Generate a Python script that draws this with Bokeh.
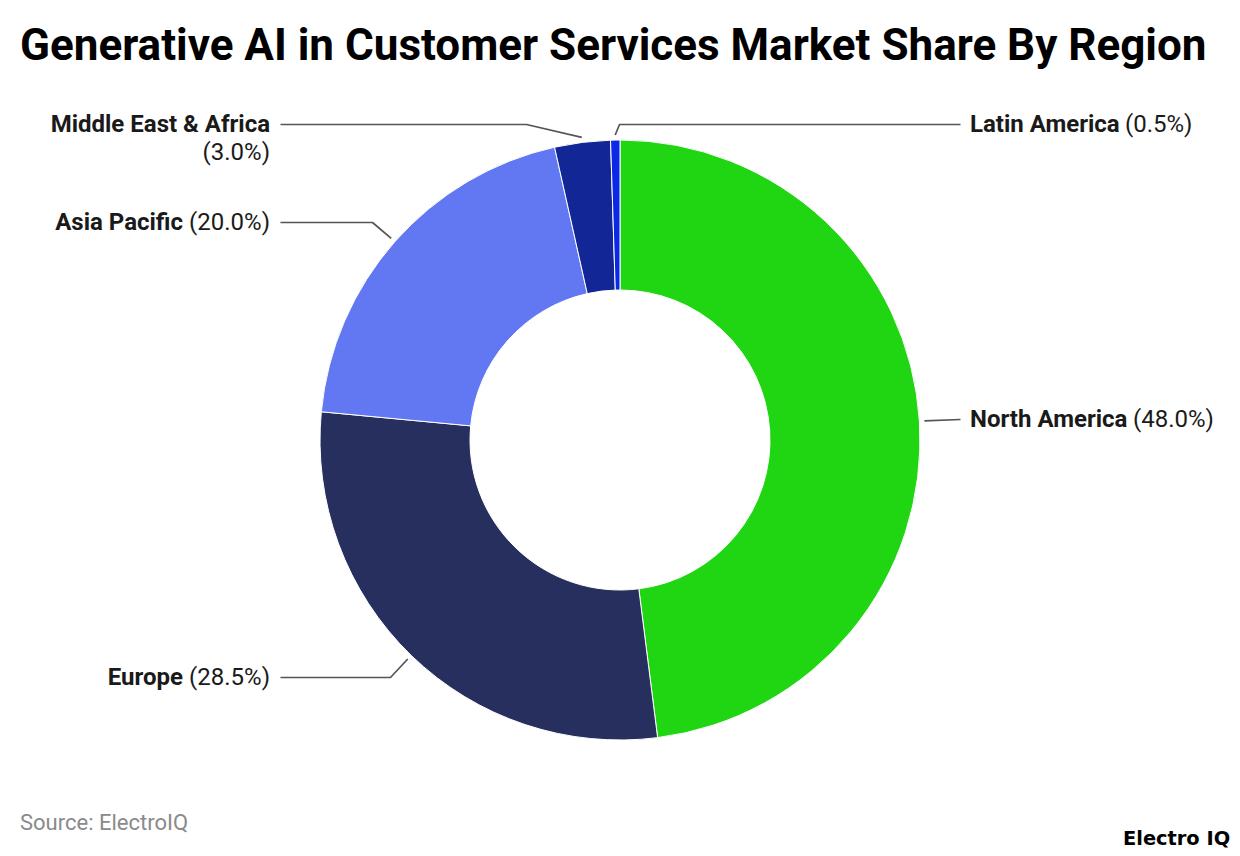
import math
from bokeh.core.properties import value
from bokeh.plotting import figure
from bokeh.embed import file_html
from bokeh.resources import INLINE

regions = ["North America", "Europe", "Asia Pacific", "Middle East & Africa", "Latin America"]
shares = [48.0, 28.5, 20.0, 3.0, 0.5]
colors = ["#20D612", "#272F5E", "#6178F2", "#122696", "#0A28E6"]

W, H = 1232, 848
CX, CY, R_OUT, R_IN = 619.5, 439.5, 300, 150
LEAD_R = 305
FONT = "Roboto"
TEXT_COLOR = "#1a1a1a"

# layout in reference page pixels
px = lambda x: x
py = lambda y: H - y

p = figure(width=W, height=H, x_range=(0, W), y_range=(0, H), output_backend="svg",
           toolbar_location=None, min_border=0, outline_line_color=None,
           background_fill_color="white", border_fill_color="white")
p.axis.visible = False
p.grid.visible = False

cum = [0.0]
for s in shares:
    cum.append(cum[-1] + s)
total = cum[-1]
starts = [math.pi / 2 - 2 * math.pi * c / total for c in cum[:-1]]
ends = [math.pi / 2 - 2 * math.pi * c / total for c in cum[1:]]
p.annular_wedge(x=[px(CX)] * len(shares), y=[py(CY)] * len(shares), inner_radius=R_IN, outer_radius=R_OUT,
                start_angle=starts, end_angle=ends, direction="clock",
                fill_color=colors, line_color="white", line_width=1)

# leader elbow + end points, label anchors
elbows = [(960, 419), (390, 677), (372, 222), (526, 124), (619, 124)]
line_ends = [(960, 419), (280, 677), (280, 222), (280, 124), (960, 124)]
for i, s in enumerate(shares):
    mid = 2 * math.pi * (cum[i] + s / 2) / total
    sx = CX + LEAD_R * math.sin(mid)
    sy = CY - LEAD_R * math.cos(mid)
    xs = [sx, elbows[i][0], line_ends[i][0]]
    ys = [sy, elbows[i][1], line_ends[i][1]]
    p.line([px(v) for v in xs], [py(v) for v in ys], line_color="#555555", line_width=1.7)


def txt(x, y, s, size, style="normal", color=TEXT_COLOR, align="left", font=FONT):
    p.text(x=[px(x)], y=[py(y)], text=[s], text_font=value(font), text_font_size=f"{size}px",
           text_font_style=style, text_color=color, text_align=align, text_baseline="middle")


LABEL_SIZE = 24
pct = [f"({v:.1f}%)" for v in shares]
# North America
txt(969.5, 418.3, regions[0], LABEL_SIZE, "bold")
txt(1132.5, 418.3, pct[0], LABEL_SIZE)
# Europe
txt(182.5, 676.3, regions[1], LABEL_SIZE, "bold", align="right")
txt(269.5, 676.3, pct[1], LABEL_SIZE, align="right")
# Asia Pacific
txt(182.5, 221.3, regions[2], LABEL_SIZE, "bold", align="right")
txt(269.5, 221.3, pct[2], LABEL_SIZE, align="right")
# Middle East & Africa (two lines)
txt(269.5, 123.3, regions[3], LABEL_SIZE, "bold", align="right")
txt(269.5, 151.3, pct[3], LABEL_SIZE, align="right")
# Latin America
txt(969.5, 123.3, regions[4], LABEL_SIZE, "bold")
txt(1124.5, 123.3, pct[4], LABEL_SIZE)

txt(19.5, 44.5, "Generative AI in Customer Services Market Share By Region", 44, "bold", color="#000000")
txt(19.5, 822, "Source: ElectroIQ", 22, color="#8a8a8a")
txt(1122.5, 837.5, "Electro IQ", 19.4, "bold", color="#000000", font="DejaVu Sans")

open("out.html", "w").write(file_html(p, INLINE))
